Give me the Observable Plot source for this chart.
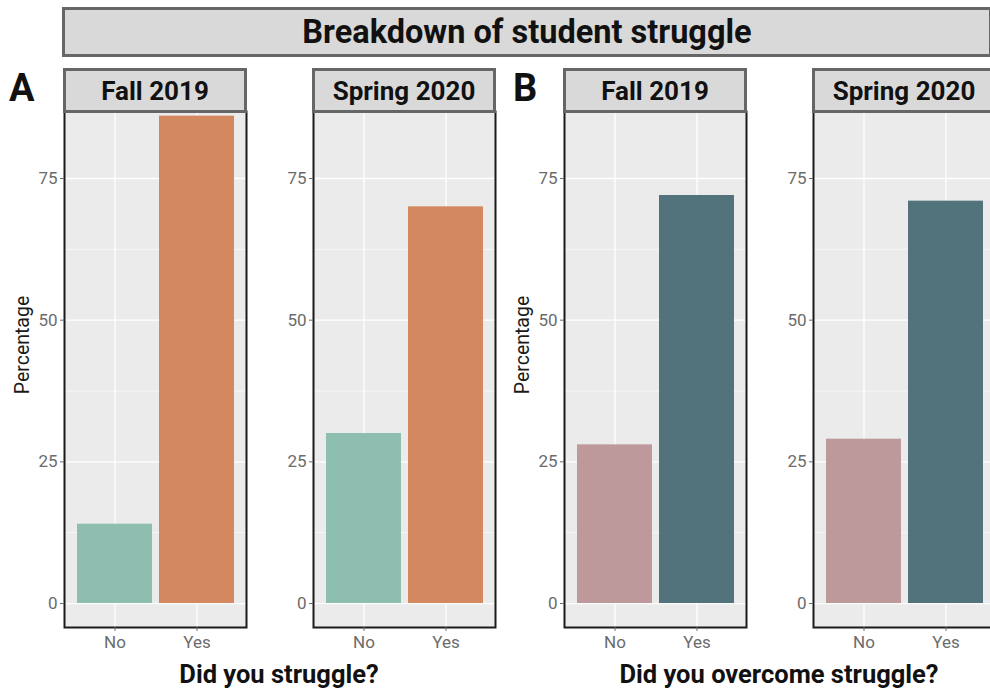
<!DOCTYPE html>
<html><head><meta charset="utf-8">
<script src="https://cdn.jsdelivr.net/npm/d3@7"></script>
<script src="https://cdn.jsdelivr.net/npm/@observablehq/plot@0.6"></script>
<style>
html,body{margin:0;padding:0;background:#fff;}
#root{position:relative;width:990px;height:692px;overflow:hidden;font-family:Roboto,"Noto Sans",sans-serif;color:#111;}
.box{position:absolute;box-sizing:border-box;background:#D9D9D9;border:3px solid #666;display:flex;align-items:center;justify-content:center;font-weight:700;white-space:nowrap;}
.lbl{position:absolute;font-weight:700;white-space:nowrap;}
.panel{position:absolute;}
.panel svg{max-width:none !important;}
.panel svg text{font-size:17px !important;font-family:Roboto,sans-serif !important;}
</style>
</head><body>
<div id="root"></div>
<script>
const title = "Breakdown of student struggle";
const answers = ["No", "Yes"];
const terms = ["Fall 2019", "Spring 2020"];
const struggleFall = [14, 86];
const struggleSpring = [30, 70];
const overcomeFall = [28, 72];
const overcomeSpring = [29, 71];
const yTicks = [0, 25, 50, 75];
const yMinor = [12.5, 37.5, 62.5];
const struggleColors = ["#8DBEB0", "#D4885F"];
const overcomeColors = ["#BE999B", "#52737B"];
const groups = [
  {tag: "A", xTitle: "Did you struggle?", series: [struggleFall, struggleSpring], colors: struggleColors},
  {tag: "B", xTitle: "Did you overcome struggle?", series: [overcomeFall, overcomeSpring], colors: overcomeColors}
];

const root = document.getElementById("root");
function add(cls, css, text) {
  const d = document.createElement("div");
  d.className = cls;
  Object.assign(d.style, css);
  if (text != null) d.textContent = text;
  root.appendChild(d);
  return d;
}

add("box", {left: "62px", top: "7px", width: "930px", height: "50px", fontSize: "32.5px"}, title);

const panelLefts = [[64, 313], [564, 813]];
const panelW = 182, plotTop = 111, plotH = 516, mL = 50, mB = 34;
const xTitleCenters = [279, 779];

groups.forEach((g, gi) => {
  add("lbl", {left: (gi === 0 ? 9 : 513) + "px", top: "66px", fontSize: "38px", lineHeight: "44px"}, g.tag);
  add("lbl", {left: (xTitleCenters[gi] - 200) + "px", top: "659px", width: "400px", textAlign: "center", fontSize: "25.5px", lineHeight: "30px"}, g.xTitle);
  add("lbl", {left: (gi === 0 ? 22 : 522) + "px", top: "345px", fontWeight: "400", fontSize: "19.5px", color: "#1a1a1a", transform: "translate(-50%,-50%) rotate(-90deg)"}, "Percentage");
  g.series.forEach((vals, ti) => {
    const left = panelLefts[gi][ti];
    const data = answers.map((a, i) => ({answer: a, value: vals[i], color: g.colors[i]}));
    const chart = Plot.plot({
      width: panelW + mL + 2,
      height: plotH + mB + 1,
      marginLeft: mL, marginRight: 2, marginTop: 1, marginBottom: mB,
      style: {fontFamily: "Roboto, sans-serif", fontSize: "17px", background: "transparent", overflow: "visible", maxWidth: "none"},
      x: {domain: answers, paddingInner: 0.09, paddingOuter: 0.15, label: null},
      y: {domain: [-4.23, 86.82], label: null},
      marks: [
        Plot.frame({fill: "#EBEBEB"}),
        Plot.gridY(yMinor, {stroke: "#fff", strokeOpacity: 1, strokeWidth: 0.6}),
        Plot.gridY(yTicks, {stroke: "#fff", strokeOpacity: 1, strokeWidth: 1.3}),
        Plot.gridX(answers, {stroke: "#fff", strokeOpacity: 1, strokeWidth: 1.3}),
        Plot.barY(data, {x: "answer", y: "value", fill: "color"}),
        Plot.frame({stroke: "#1a1a1a", strokeWidth: 2}),
        Plot.axisY(yTicks, {tickSize: 4, tickPadding: 3, color: "#6b6b6b", label: null}),
        Plot.axisX(answers, {tickSize: 4, tickPadding: 4, color: "#6b6b6b", label: null})
      ]
    });
    const wrap = add("panel", {left: (left - mL) + "px", top: (plotTop - 1) + "px", width: (panelW + mL + 2) + "px"});
    wrap.appendChild(chart);
    add("box", {left: (left - 1) + "px", top: "68px", width: (panelW + 2) + "px", height: "45px", fontSize: "26px"}, terms[ti]);
  });
});
</script>
</body></html>
